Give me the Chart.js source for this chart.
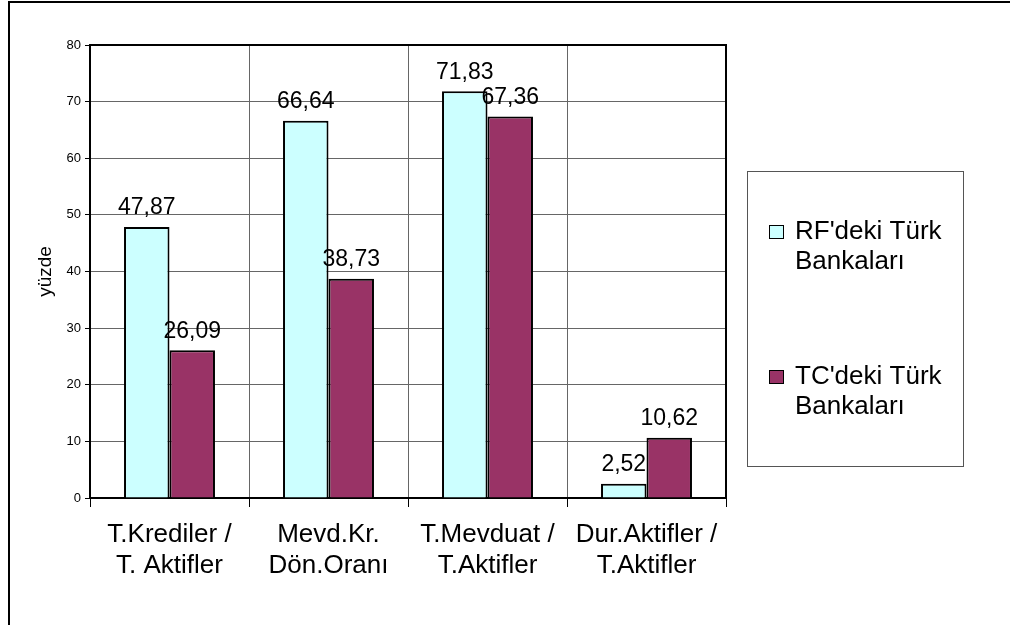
<!DOCTYPE html>
<html><head><meta charset="utf-8">
<script src="https://cdn.jsdelivr.net/npm/chart.js@4"></script>
<style>html,body{margin:0;padding:0;background:#fff;overflow:hidden;}</style>
</head><body><canvas id="c" width="1010" height="625"></canvas>
<script>
const categories = [["T.Krediler /","T. Aktifler"],["Mevd.Kr.","Dön.Oranı"],["T.Mevduat /","T.Aktifler"],["Dur.Aktifler /","T.Aktifler"]];
const seriesNames = [["RF'deki Türk","Bankaları"],["TC'deki Türk","Bankaları"]];
const rfValues = [47.87, 66.64, 71.83, 2.52];
const tcValues = [26.09, 38.73, 67.36, 10.62];
const yMin = 0, yMax = 80, yStep = 10;
const axisTitle = "yüzde";
const colors = ["#CCFFFF", "#993366"];
const FONT = "'Liberation Sans', Arial, sans-serif";

const framePlugin = {
  id: 'frame',
  beforeDraw(chart) {
    const ctx = chart.ctx;
    ctx.save();
    ctx.fillStyle = '#fff';
    ctx.fillRect(0, 0, chart.width, chart.height);
    ctx.fillStyle = '#000';
    ctx.fillRect(8, 1, chart.width - 8, 2);
    ctx.fillRect(8, 1, 2, chart.height);
    ctx.restore();
  },
  afterDraw(chart) {
    const ctx = chart.ctx, a = chart.chartArea;
    ctx.save();
    ctx.strokeStyle = '#000';
    ctx.lineWidth = 2;
    ctx.beginPath();
    ctx.moveTo(a.left, a.top);
    ctx.lineTo(a.right, a.top);
    ctx.lineTo(a.right, a.bottom);
    ctx.stroke();
    // legend
    ctx.lineWidth = 1;
    ctx.strokeStyle = '#555';
    ctx.strokeRect(747.5, 171.5, 216, 295);
    ctx.font = '26px ' + FONT;
    ctx.textBaseline = 'middle';
    ctx.textAlign = 'left';
    chart.data.datasets.forEach((ds, i) => {
      const y0 = 232 + i * 145;
      ctx.fillStyle = ds.backgroundColor;
      ctx.fillRect(769, y0 - 7, 15, 14);
      ctx.strokeStyle = '#000';
      ctx.strokeRect(769.5, y0 - 6.5, 14, 13);
      ctx.fillStyle = '#000';
      seriesNames[i].forEach((line, j) => ctx.fillText(line, 795, y0 + j * 30));
    });
    ctx.restore();
  },
  afterDatasetsDraw(chart) {
    const ctx = chart.ctx;
    ctx.save();
    ctx.font = '23px ' + FONT;
    ctx.fillStyle = '#000';
    ctx.textAlign = 'center';
    ctx.textBaseline = 'middle';
    chart.data.datasets.forEach((ds, i) => {
      chart.getDatasetMeta(i).data.forEach((el, k) => {
        ctx.fillText(ds.data[k].toFixed(2).replace('.', ','), el.x, el.y - 19);
      });
    });
    ctx.restore();
  }
};

new Chart(document.getElementById('c'), {
  type: 'bar',
  data: {
    labels: categories,
    datasets: [
      { label: seriesNames[0].join(' '), data: rfValues, backgroundColor: colors[0], borderColor: '#000', borderWidth: 2 },
      { label: seriesNames[1].join(' '), data: tcValues, backgroundColor: colors[1], borderColor: '#000', borderWidth: 2 }
    ]
  },
  options: {
    responsive: false,
    animation: false,
    devicePixelRatio: 1,
    categoryPercentage: 0.572,
    barPercentage: 1.0,
    layout: { padding: { left: 26, top: 45, right: 284, bottom: 0 } },
    plugins: { legend: { display: false }, tooltip: { enabled: false } },
    scales: {
      x: {
        grid: { offset: true, color: '#666', lineWidth: 1, tickLength: 9, tickColor: '#000' },
        border: { display: true, color: '#000', width: 2 },
        ticks: { font: { size: 26, family: FONT }, color: '#000', padding: 12, maxRotation: 0, autoSkip: false },
        afterFit: s => { s.height = 127; }
      },
      y: {
        min: yMin, max: yMax,
        ticks: { stepSize: yStep, font: { size: 13, family: FONT }, color: '#000', padding: 4 },
        grid: { color: '#666', lineWidth: 1, tickLength: 5, tickColor: '#000' },
        border: { display: true, color: '#000', width: 2 },
        title: { display: true, text: axisTitle, font: { size: 19, family: FONT }, color: '#000', padding: { top: 8, bottom: 0 } },
        afterFit: s => { s.width = 64; }
      }
    }
  },
  plugins: [framePlugin]
});
</script>
</body></html>
